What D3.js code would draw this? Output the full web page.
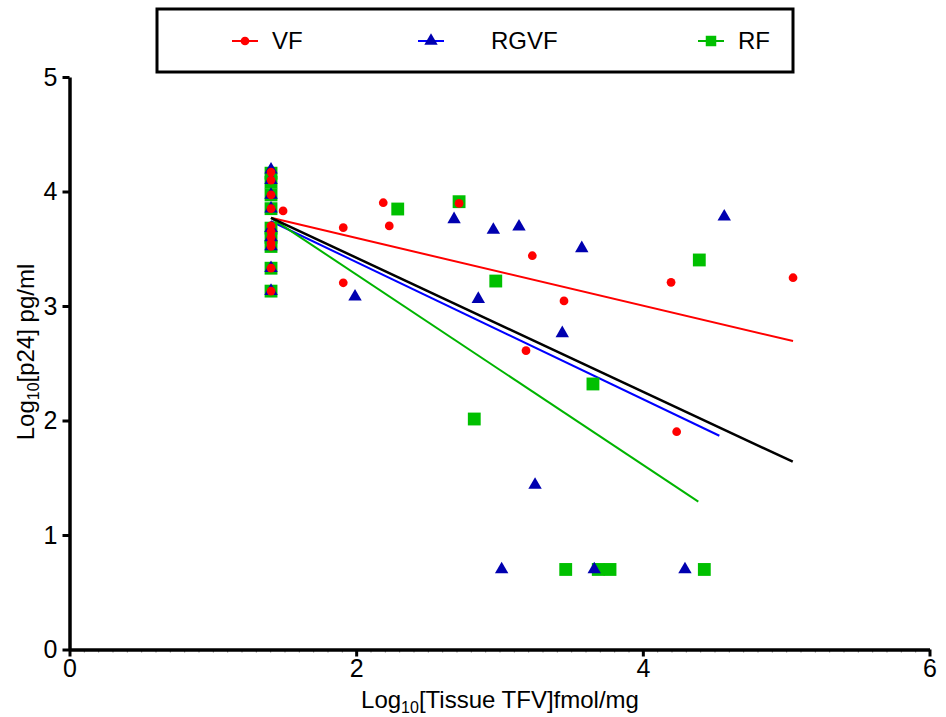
<!DOCTYPE html>
<html lang="en">
    <head>
        <meta charset="utf-8">
        <title>Tissue TFV vs p24</title>
        <script type="text/javascript" src="https://d3js.org/d3.v7.min.js"></script>
        <style>
            body { margin: 0; background: #fff; }
            text { font-family: "Liberation Sans", Arial, sans-serif; }
        </style>
    </head>
    <body>
        <script type="text/javascript">

            var w = 946;
            var h = 717;

            // series names (legend order)
            var seriesNames = ["VF", "RGVF", "RF"];

            // VF points (log10 tissue TFV, log10 p24)
            var vfX = [1.406, 1.406, 1.406, 1.406, 1.406, 1.406, 1.406, 1.406, 1.406, 1.406, 1.406, 1.49,
                       1.91, 1.91, 2.189, 2.231, 2.718, 3.185, 3.229, 3.45, 4.197, 4.236, 5.048];
            var vfY = [4.17, 4.10, 3.97, 3.85, 3.70, 3.65, 3.60, 3.55, 3.52, 3.33, 3.13, 3.83,
                       3.684, 3.203, 3.902, 3.699, 3.897, 2.61, 3.439, 3.044, 3.207, 1.902, 3.247];

            // RGVF points
            var rgvfX = [1.406, 1.406, 1.406, 1.406, 1.406, 1.406, 1.406, 1.406, 1.406,
                         1.992, 2.683, 2.852, 2.957, 3.015, 3.136, 3.248, 3.438, 3.574, 3.661, 4.294, 4.568];
            var rgvfY = [4.19, 4.10, 3.97, 3.85, 3.68, 3.60, 3.52, 3.33, 3.13,
                         3.081, 3.757, 3.061, 3.664, 0.699, 3.693, 1.437, 2.762, 3.504, 0.699, 0.699, 3.78];

            // RF points
            var rfX = [1.406, 1.406, 1.406, 1.406, 1.406, 1.406, 1.406, 1.406, 1.406,
                       2.29, 2.718, 2.824, 2.974, 3.462, 3.652, 3.689, 3.771, 4.394, 4.429];
            var rfY = [4.16, 4.08, 3.97, 3.85, 3.68, 3.60, 3.52, 3.33, 3.13,
                       3.847, 3.911, 2.013, 3.218, 0.699, 2.319, 0.699, 0.699, 3.402, 0.699];

            // fitted lines: VF, RGVF, RF, all
            var fitNames  = ["VF", "RGVF", "RF", "All"];
            var fitStartX = [1.406, 1.406, 1.406, 1.406];
            var fitStartY = [3.77, 3.74, 3.77, 3.77];
            var fitEndX   = [5.048, 4.534, 4.387, 5.046];
            var fitEndY   = [2.694, 1.867, 1.291, 1.640];

            var xTicks = [0, 2, 4, 6];
            var yTicks = [0, 1, 2, 3, 4, 5];

            var pointColor = { "VF": "#ff0000", "RGVF": "#0000b0", "RF": "#00c000" };
            var lineColor = { "VF": "#ff0000", "RGVF": "#0000ff", "RF": "#00b400", "All": "#000000" };
            var symbolType = { "VF": d3.symbolCircle, "RGVF": d3.symbolTriangle, "RF": d3.symbolSquare };
            var symbolSize = { "VF": 60, "RGVF": 78, "RF": 165 };

            var xScale = d3.scaleLinear().domain([0, 6]).range([69.5, 929.5]);
            var yScale = d3.scaleLinear().domain([0, 5]).range([649.5, 77]);

            var svg = d3.select("body")
                        .append("svg")
                        .attr("width", w)
                        .attr("height", h);

            // minor x ticks
            svg.append("g")
                .attr("transform", "translate(0," + yScale(0) + ")")
                .call(d3.axisBottom(xScale).tickValues(d3.range(0, 6.001, 0.1)).tickSize(3).tickFormat(""))
                .call(function(g) { g.select(".domain").remove(); })
                .selectAll("line").attr("stroke", "#777").attr("stroke-width", 1);

            var xAxis = svg.append("g")
                .attr("transform", "translate(0," + yScale(0) + ")")
                .call(d3.axisBottom(xScale).tickValues(xTicks).tickFormat(d3.format("d"))
                    .tickSize(7).tickSizeOuter(0).tickPadding(3));

            var yAxis = svg.append("g")
                .attr("transform", "translate(" + xScale(0) + ",0)")
                .call(d3.axisLeft(yScale).tickValues(yTicks).tickFormat(d3.format("d"))
                    .tickSize(7).tickSizeOuter(0).tickPadding(5));

            [xAxis, yAxis].forEach(function(g) {
                g.select(".domain").style("stroke-width", "3.5px");
                g.selectAll(".tick line").style("stroke-width", "3px");
                g.selectAll(".tick text").attr("font-size", 25).attr("fill", "#000")
                    .style("font-family", "'Liberation Sans', Arial, sans-serif");
            });

            // fit lines
            svg.selectAll(".fit")
                .data(fitNames)
                .enter()
                .append("line")
                .attr("class", "fit")
                .attr("x1", function(d, i) { return xScale(fitStartX[i]); })
                .attr("y1", function(d, i) { return yScale(fitStartY[i]); })
                .attr("x2", function(d, i) { return xScale(fitEndX[i]); })
                .attr("y2", function(d, i) { return yScale(fitEndY[i]); })
                .attr("stroke", function(d) { return lineColor[d]; })
                .attr("stroke-width", function(d) { return d === "All" ? 2.5 : 2; });

            // points, drawn RF first so VF ends up on top
            var pointSets = [
                { name: "RF", xs: rfX, ys: rfY },
                { name: "RGVF", xs: rgvfX, ys: rgvfY },
                { name: "VF", xs: vfX, ys: vfY }
            ];

            pointSets.forEach(function(s) {
                var sym = d3.symbol().type(symbolType[s.name]).size(symbolSize[s.name]);
                svg.append("g")
                    .selectAll("path")
                    .data(d3.range(s.xs.length))
                    .enter()
                    .append("path")
                    .attr("d", sym)
                    .attr("transform", function(i) {
                        return "translate(" + xScale(s.xs[i]) + "," + yScale(s.ys[i]) + ")";
                    })
                    .attr("fill", pointColor[s.name]);
            });

            // axis titles
            var xt = svg.append("text")
                .attr("x", 500)
                .attr("y", 708)
                .attr("text-anchor", "middle")
                .attr("font-size", 24);
            xt.append("tspan").text("Log");
            xt.append("tspan").attr("font-size", 16).attr("dy", 5).text("10");
            xt.append("tspan").attr("dy", -5).text("[Tissue TFV]fmol/mg");

            var yt = svg.append("text")
                .attr("transform", "translate(34," + 352 + ") rotate(-90)")
                .attr("text-anchor", "middle")
                .attr("font-size", 24);
            yt.append("tspan").text("Log");
            yt.append("tspan").attr("font-size", 16).attr("dy", 5).text("10");
            yt.append("tspan").attr("dy", -5).text("[p24] pg/ml");

            // legend box
            svg.append("rect")
                .attr("x", 157)
                .attr("y", 9)
                .attr("width", 636)
                .attr("height", 63)
                .attr("fill", "none")
                .attr("stroke", "#000")
                .attr("stroke-width", 3);

            var legendX = [245, 431, 711];
            var legendTextX = [272, 491, 738];
            var legendY = 41;

            var leg = svg.selectAll(".leg")
                .data(seriesNames)
                .enter()
                .append("g")
                .attr("class", "leg");

            leg.append("line")
                .attr("x1", function(d, i) { return legendX[i] - 13; })
                .attr("x2", function(d, i) { return legendX[i] + 13; })
                .attr("y1", legendY)
                .attr("y2", legendY)
                .attr("stroke", function(d) { return lineColor[d]; })
                .attr("stroke-width", 2);

            leg.append("path")
                .attr("d", function(d) {
                    return d3.symbol().type(symbolType[d]).size(d === "RF" ? 110 : symbolSize[d])();
                })
                .attr("transform", function(d, i) { return "translate(" + legendX[i] + "," + legendY + ")"; })
                .attr("fill", function(d) { return pointColor[d]; });

            leg.append("text")
                .attr("x", function(d, i) { return legendTextX[i]; })
                .attr("y", legendY)
                .attr("dy", "0.35em")
                .attr("font-size", 24)
                .text(function(d) { return d; });

        </script>
    </body>
</html>
